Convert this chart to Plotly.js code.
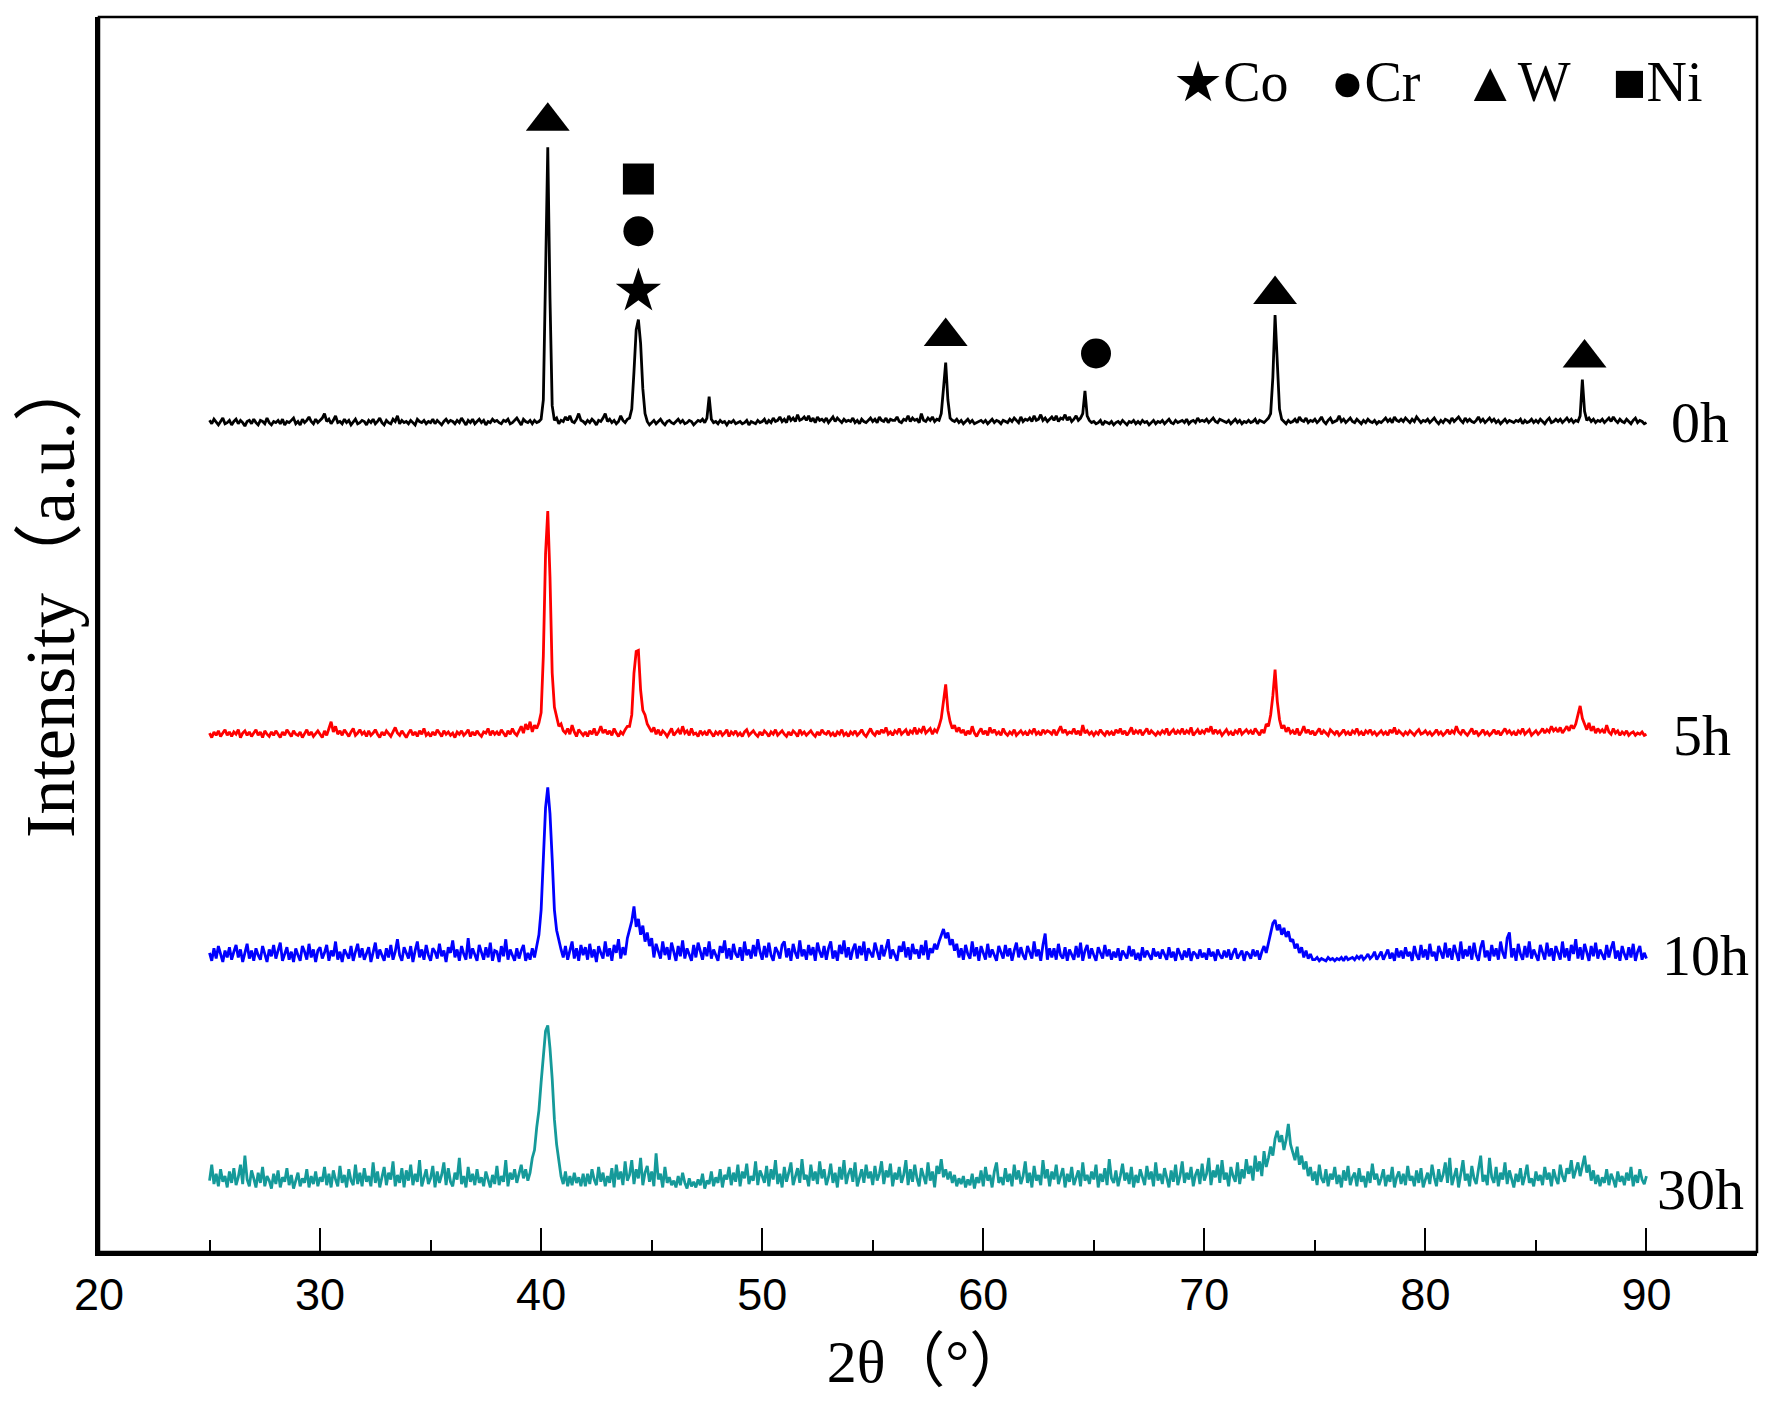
<!DOCTYPE html>
<html>
<head>
<meta charset="utf-8">
<script src="https://cdn.plot.ly/plotly-3.0.1.min.js"></script>
<style>html,body{margin:0;padding:0;background:#fff;}#chart{width:1771px;height:1402px;}</style>
</head>
<body>
<div id="chart"></div>
<script>
// 2θ sampling grid: 25.0° to 90.0°, step 0.1°
const thetaStart = 25.0;
const thetaStep = 0.1;

// Intensities (a.u., relative to each pattern's baseline), one row per degree
const int0h = [
2,-1,3,0,-2,1,4,-1,0,2,
-2,1,3,-1,2,0,-3,1,2,-1,
3,0,-2,2,1,-1,4,0,-2,1,
0,2,-1,3,-2,1,0,2,4,-1,
1,-2,3,0,2,5,1,-1,3,0,
2,4,8,1,3,-1,2,6,0,1,
-1,3,0,2,-2,1,3,-1,0,2,
1,-2,2,0,3,-1,1,4,0,-2,
2,0,-1,3,1,6,-1,2,0,1,
-1,2,0,-2,3,1,0,2,-1,1,
0,3,-1,2,0,-2,1,3,0,2,
1,-1,2,0,4,1,-2,2,0,3,
-1,1,3,0,2,-2,1,0,3,1,
2,0,-1,2,1,3,-1,0,2,4,
1,-2,3,1,0,2,-1,2,0,1,
3,20,130,243,110,15,2,4,-1,2,
1,5,2,6,1,0,3,8,2,1,
-1,2,0,3,1,-2,2,1,4,8,
1,3,0,2,-1,1,6,2,0,3,
4,12,45,82,91,70,30,8,1,-2,
0,2,-1,1,3,0,-2,1,2,0,
-1,1,3,0,2,-1,0,2,1,-2,
0,2,1,3,0,4,23,3,0,1,
-1,2,0,1,-2,1,0,2,-1,0,
1,-1,0,2,-2,1,0,-1,2,0,
1,3,-1,2,0,4,1,2,5,1,
3,0,6,2,4,1,7,2,3,5,
2,6,1,4,0,5,2,3,1,4,
0,3,5,1,4,2,0,3,1,2,
1,4,0,2,-1,3,1,0,2,4,
1,3,0,5,2,1,4,0,3,2,
2,5,1,0,3,2,6,1,4,2,
3,0,8,2,1,4,2,5,1,3,
2,8,30,53,20,4,2,1,3,0,
2,-1,1,3,0,2,-1,0,1,2,
0,2,-1,1,3,0,2,1,-1,2,
1,0,3,1,4,2,0,5,1,3,
2,4,1,6,2,3,7,2,4,1,
3,5,2,6,1,4,3,7,2,5,
1,3,6,2,4,8,28,6,2,0,
1,-1,0,2,-2,1,0,-1,1,-2,
0,1,-1,2,0,-2,1,0,2,-1,
1,-1,2,0,1,-2,0,2,-1,1,
0,2,-1,1,3,0,-1,2,0,1,
2,0,3,-1,1,2,0,4,1,2,
1,3,0,2,4,1,0,3,2,1,
0,2,-1,1,3,0,2,-1,1,0,
2,0,1,3,-1,2,1,0,2,4,
8,40,95,55,12,3,1,-1,2,0,
1,3,0,5,2,1,4,0,2,1,
3,0,2,5,1,-1,2,4,0,1,
2,6,1,3,0,2,4,1,0,3,
1,-1,2,0,3,1,0,2,-1,1,
0,2,4,1,3,0,5,2,1,3,
1,4,2,0,3,1,5,2,0,2,
1,3,0,2,4,1,-1,2,0,3,
2,0,4,1,3,5,2,0,4,1,
3,1,0,2,5,1,3,0,2,4,
1,3,0,2,-1,1,3,0,2,1,
0,2,1,3,-1,2,0,1,3,0,
2,0,3,1,-1,2,4,0,1,3,
1,3,0,2,4,1,3,0,2,1,
6,38,10,2,4,1,3,0,2,1,
3,0,2,4,1,5,2,0,3,1,
0,3,1,-1,2,4,0,2,1,-1,
0];

const int5h = [
2,-2,3,0,4,-1,2,5,0,3,
-1,3,1,5,-2,2,4,0,3,-1,
2,5,0,3,-2,4,1,-1,3,0,
4,1,-2,3,0,5,2,-1,4,1,
0,3,-2,2,5,0,3,-1,2,4,
1,-2,4,0,6,12,3,8,1,4,
0,5,2,-1,3,6,0,2,5,1,
3,-1,4,0,2,5,1,-2,3,0,
4,1,-1,3,7,2,0,4,1,-2,
2,5,0,3,-1,4,1,6,0,2,
-1,3,0,5,2,-1,4,1,3,0,
2,-2,3,1,4,0,2,5,-1,3,
0,4,1,-1,3,2,6,0,4,1,
3,0,5,2,-1,4,1,6,2,0,
4,8,2,10,5,12,3,9,6,11,
20,70,160,198,140,55,25,15,8,10,
4,2,6,1,9,3,-1,5,2,0,
3,-1,4,1,6,0,3,8,2,5,
1,4,0,6,2,-1,3,1,5,8,
8,18,55,74,75,40,22,18,10,6,
3,7,1,5,0,4,2,-1,3,6,
0,3,5,1,8,2,4,0,6,1,
2,-1,4,1,3,0,5,2,-1,3,
1,4,0,2,5,-1,3,1,4,0,
2,-1,3,5,0,2,4,1,-1,3,
0,4,2,-1,3,1,5,0,2,4,
1,-1,3,0,4,2,-1,5,1,3,
0,2,4,1,-1,3,0,5,2,1,
4,0,2,-1,3,1,5,0,2,-1,
3,1,4,0,2,5,1,-1,3,6,
2,0,4,1,5,2,7,1,3,0,
4,2,6,1,3,5,0,4,2,7,
1,5,3,8,2,4,6,1,5,3,
8,15,30,45,22,12,6,9,3,7,
2,5,0,4,1,8,2,-1,3,6,
1,4,0,7,2,5,1,3,0,6,
2,0,3,1,5,0,2,4,1,3,
0,4,2,6,1,3,0,5,2,4,
3,1,5,0,4,8,2,5,1,3,
2,6,1,4,0,9,2,4,1,3,
0,3,1,5,2,0,4,1,3,0,
5,2,6,1,4,0,3,7,1,4,
2,5,0,3,6,1,4,2,0,3,
1,4,2,6,0,3,5,1,4,2,
6,1,4,2,7,0,3,5,1,4,
2,6,3,8,1,5,2,4,0,3,
5,1,3,0,4,2,6,1,3,5,
2,4,1,6,3,0,5,2,10,8,
18,35,58,30,14,6,9,3,7,2,
4,1,6,0,3,8,2,5,1,4,
0,3,6,1,4,2,0,5,3,1,
4,0,2,5,1,3,0,4,2,6,
1,3,0,4,2,5,1,3,0,2,
4,1,3,0,5,2,7,1,4,2,
0,3,1,4,2,0,3,5,1,2,
4,1,3,0,2,5,1,3,0,2,
5,1,4,2,8,3,1,5,2,0,
3,6,1,4,0,2,5,1,3,0,
2,5,1,4,0,3,6,2,4,1,
3,0,4,2,6,1,3,5,0,2,
4,1,3,6,2,5,3,8,4,6,
3,7,2,5,8,4,9,6,10,18,
26,15,9,5,11,4,8,2,6,3,
5,2,9,3,1,6,2,4,0,3,
1,4,0,2,3,0,2,1,3,0,
1];

const int10h = [
2,-5,6,-3,8,0,-6,4,-2,7,
-4,3,9,-2,5,-6,2,10,-3,4,
-5,6,0,-4,8,2,-6,5,-1,9,
-3,4,11,-5,2,7,-4,3,-6,6,
0,-5,8,3,-4,10,-2,5,-6,4,
7,-3,2,9,-5,4,-1,12,-4,3,
-6,5,1,-3,8,-5,3,10,-2,6,
-4,2,7,-6,4,11,-3,5,0,-5,
6,-2,9,-4,3,14,0,-5,7,2,
-3,8,-6,4,12,-2,5,-4,9,0,
-5,6,3,-3,10,-1,4,-6,7,2,
13,-2,5,-5,8,1,-4,15,-3,6,
0,-5,9,2,-4,7,-2,11,-5,4,
3,-6,8,-1,14,-4,5,0,-5,6,
-3,4,9,-5,2,-4,6,-2,10,18,
40,80,130,148,125,85,40,22,12,5,
-2,8,-4,5,12,-3,6,-5,9,0,
7,-4,10,-2,5,-6,8,2,-3,12,
-1,6,-5,9,2,14,-3,7,0,15,
22,30,43,25,32,18,26,12,20,8,
15,-2,10,4,-3,12,0,7,-4,11,
3,-5,8,-1,13,-3,6,0,-5,9,
-2,11,4,-4,7,-1,12,-3,5,0,
-5,8,2,13,-3,6,-4,10,1,-2,
7,-5,12,0,5,-3,9,-1,14,3,
-4,8,-2,11,0,-5,7,3,-3,9,
12,-2,6,-5,10,2,-3,13,-1,5,
-4,9,0,7,-5,11,3,-2,8,-4,
6,12,-3,4,-5,9,1,13,-2,7,
-4,5,10,-3,8,0,12,-5,6,2,
-2,11,4,-4,9,-1,6,14,-3,5,
0,-5,8,3,12,-2,7,-4,10,1,
5,-3,9,0,13,-4,6,2,10,5,
12,18,23,15,20,9,14,4,10,-2,
6,-4,9,1,-3,12,-1,7,-5,8,
2,-4,10,-2,5,0,-5,8,3,-3,
9,-1,6,-5,4,11,-2,7,0,-4,
8,3,-3,12,-1,5,-5,9,19,-4,
6,-2,6,-4,10,0,-3,7,-5,5,
1,-4,8,-2,11,-5,4,9,-3,6,
0,-5,7,2,-3,9,-1,5,-4,3,
-2,6,-5,4,1,-3,8,-1,5,-4,
2,-5,7,-2,4,0,-4,6,-1,3,
-3,5,1,-4,7,-2,3,-5,6,0,
-4,4,-2,6,-5,3,1,-3,5,-2,
2,-4,6,-1,3,-5,5,0,-3,4,
-2,5,-4,2,6,-3,0,4,-5,3,
1,-3,5,-1,4,-4,3,8,2,10,
18,28,31,22,27,18,24,16,21,12,
14,6,10,2,7,-2,4,-3,1,-4,
-4,-2,-5,-3,-4,-5,-2,-4,-3,-5,
-3,-4,-2,-5,-1,-4,-3,-2,-4,-1,
-3,0,-4,-2,1,-3,-1,3,-4,0,
3,-4,1,5,-3,2,-5,6,-2,4,
-3,7,-1,3,-5,8,0,-4,9,-2,
5,-4,10,-1,3,-5,8,2,-3,11,
-2,6,-4,9,1,-5,12,-3,5,-1,
8,-4,11,0,-5,7,13,-2,4,-5,
9,-1,6,-4,12,2,-3,15,20,-2,
6,-5,10,1,-4,8,-2,12,-3,5,
0,-5,9,3,-4,11,-1,6,-5,8,
2,-4,12,-2,6,-5,9,1,14,-3,
7,-4,10,2,-5,8,-1,11,-3,5,
0,-4,9,-2,6,12,-3,4,-5,8,
1,-4,7,-2,10,-5,3,8,-4,2,
-3];

const int30h = [
8,22,5,14,3,18,7,12,2,16,
6,19,4,11,22,5,30,9,3,17,
10,2,15,6,20,3,12,8,1,14,
5,17,2,11,7,19,4,13,1,9,
15,3,10,6,18,2,12,5,16,3,
11,7,20,4,14,2,17,9,3,21,
6,13,2,18,8,4,22,5,15,3,
19,7,12,3,24,6,16,2,11,20,
4,15,9,25,3,13,6,19,2,17,
8,22,4,14,7,26,3,12,18,5,
10,21,2,16,6,13,24,4,19,7,
3,15,9,28,5,12,2,20,7,14,
4,18,6,11,3,16,8,2,13,5,
21,4,12,7,26,3,15,9,18,6,
14,22,10,18,8,15,28,35,55,70,
95,120,140,145,125,98,62,40,26,12,
5,16,3,12,4,15,6,11,3,14,
3,14,5,18,9,4,20,7,15,3,
12,6,19,2,22,9,16,4,25,8,
13,26,5,18,10,28,4,15,21,7,
16,3,32,9,14,2,20,6,11,4,
8,2,12,4,15,6,1,10,3,7,
2,9,4,14,1,8,5,16,3,11,
6,18,2,13,9,20,4,15,7,22,
3,16,10,23,5,12,8,25,4,17,
12,6,21,3,18,9,26,5,14,2,
20,7,15,24,4,11,19,6,27,9,
13,3,22,8,16,5,25,10,18,4,
11,23,6,15,2,20,9,26,5,14,
19,7,24,3,12,18,6,22,10,16,
4,21,8,14,25,5,17,11,23,3,
15,9,20,6,13,26,4,18,7,22,
10,3,19,12,5,24,8,16,2,21,
14,27,11,18,9,16,6,13,3,10,
5,12,2,9,4,14,1,11,6,17,
3,20,8,13,2,16,24,6,11,4,
19,7,14,3,22,9,17,5,12,25,
6,15,2,21,8,13,4,26,10,18,
3,16,9,22,5,12,19,2,14,7,
20,4,11,17,3,24,8,13,5,16,
9,22,2,14,7,19,4,27,10,6,
17,3,12,23,8,15,5,20,2,13,
6,18,11,4,21,9,16,3,24,8,
14,5,19,10,2,17,7,22,4,12,
25,6,15,9,20,3,13,18,5,23,
8,14,28,4,17,11,22,6,26,9,
15,3,20,12,7,24,5,18,10,27,
14,21,8,30,16,25,12,34,20,28,
38,30,45,52,42,48,35,44,58,40,
33,26,38,22,30,18,25,12,20,8,
16,4,22,10,6,18,3,14,9,20,
5,13,2,17,8,21,4,11,15,3,
19,7,12,2,16,6,23,9,14,4,
10,18,3,13,7,20,2,11,16,5,
14,4,21,8,12,3,17,6,19,2,
9,15,5,22,11,3,18,7,13,24,
6,28,4,12,19,2,16,26,8,14,
3,21,10,5,18,30,7,13,4,28,
11,6,20,3,15,9,24,5,17,8,
2,14,7,19,4,12,22,6,10,3,
16,8,13,4,20,9,15,3,18,10,
5,22,12,7,19,14,26,10,17,24,
12,20,30,15,22,8,17,5,13,3,
11,6,18,4,14,9,2,16,7,12,
4,15,8,20,3,13,6,18,9,5,
12];

// Vertical stacking offset of each pattern (a.u.)
const seriesNames = ['0h', '5h', '10h', '30h'];
const seriesOffsets = [732, 456, 262, 55];
const seriesColors = ['#000000', '#ff0000', '#0000ff', '#159a9a'];
const seriesData = [int0h, int5h, int10h, int30h];

// Phase marks placed above the 0h peaks (2θ, a.u.)
const wMarkX = [40.3, 58.3, 73.2, 87.2];
const wMarkY = [998, 808, 845, 789];
const crMarkX = [44.4, 65.1];
const crMarkY = [901, 793];
const coMarkX = [44.4];
const coMarkY = [848];
const niMarkX = [44.4];
const niMarkY = [947];

// Axis ticks
const majorTicks = [20, 30, 40, 50, 60, 70, 80, 90];
const minorTicks = [25, 35, 45, 55, 65, 75, 85];
const labelX = [91.0, 91.1, 90.6, 90.4];

const twoTheta = int0h.map((_, i) => +(thetaStart + i * thetaStep).toFixed(1));

const traces = seriesData.map((vals, k) => ({
  type: 'scatter', mode: 'lines', name: seriesNames[k],
  x: twoTheta, y: vals.map(v => v + seriesOffsets[k]),
  line: {color: seriesColors[k], width: 2.8},
  showlegend: false, hoverinfo: 'skip'
}));

function marks(xs, ys, sym, size, name) {
  return {type: 'scatter', mode: 'markers', name: name, x: xs, y: ys,
    marker: {symbol: sym, size: size, color: '#000'}, showlegend: false, hoverinfo: 'skip'};
}
traces.push(marks(wMarkX, wMarkY, 'triangle-up', 38, 'W'));
traces.push(marks(crMarkX, crMarkY, 'circle', 30, 'Cr'));
traces.push(marks(coMarkX, coMarkY, 'star', 34, 'Co'));
traces.push(marks(niMarkX, niMarkY, 'square', 31, 'Ni'));

const serif = 'Liberation Serif, Times New Roman, Noto Sans CJK SC, serif';

const annotations = seriesNames.map((n, k) => ({
  x: labelX[k], y: seriesOffsets[k], xref: 'x', yref: 'y', text: n,
  showarrow: false, xanchor: 'left', yanchor: 'middle',
  font: {family: serif, size: 58, color: '#000'}
}));
annotations.push({
  x: 92.6, y: 1033, xref: 'x', yref: 'y',
  text: '★Co\u00a0\u00a0\u00a0●Cr\u00a0\u00a0\u00a0▲W\u00a0\u00a0\u00a0■Ni',
  showarrow: false, xanchor: 'right', yanchor: 'middle',
  font: {family: 'Liberation Serif, DejaVu Sans, serif', size: 56, color: '#000'}
});
// y-axis title
annotations.push({
  x: -0.029, y: 0.532, xref: 'paper', yref: 'paper', text: 'Intensity（a.u.）',
  textangle: -90, showarrow: false, xanchor: 'center', yanchor: 'middle',
  font: {family: serif, size: 70, color: '#000'}
});

const layout = {
  width: 1771, height: 1402,
  margin: {l: 99, r: 14, t: 17, b: 150},
  paper_bgcolor: '#fff', plot_bgcolor: '#fff',
  showlegend: false,
  xaxis: {
    range: [20, 95], tickmode: 'array', tickvals: majorTicks, ticktext: majorTicks.map(String),
    ticks: 'inside', ticklen: 24, tickwidth: 2, tickcolor: '#000',
    minor: {tickmode: 'array', tickvals: minorTicks, ticks: 'inside', ticklen: 12, tickwidth: 2, tickcolor: '#000'},
    showline: true, linewidth: 4, linecolor: '#000', showgrid: false, zeroline: false,
    tickfont: {family: 'Liberation Sans, Arial, sans-serif', size: 45, color: '#000'},
    ticklabelstandoff: 0,
    title: {text: '2θ（°）', font: {family: serif, size: 60, color: '#000'}, standoff: 22}
  },
  yaxis: {
    range: [0, 1090], showticklabels: false, ticks: '',
    showline: true, linewidth: 4, linecolor: '#000', showgrid: false, zeroline: false
  },
  shapes: [{type: 'rect', xref: 'paper', yref: 'paper', x0: 0, x1: 1, y0: 0, y1: 1,
    line: {color: '#000', width: 2.5}}],
  annotations: annotations
};

Plotly.newPlot('chart', traces, layout, {staticPlot: true, displayModeBar: false});
</script>
</body>
</html>
